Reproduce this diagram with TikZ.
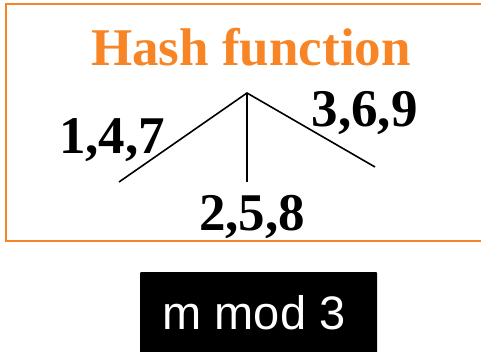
\documentclass[tikz,border=0pt]{standalone}
\usepackage{fontspec}
\setmainfont{Liberation Serif}
\newfontfamily\arialfont{Liberation Sans}
\definecolor{hashorange}{RGB}{247,133,38}
\begin{document}
\begin{tikzpicture}[x=1pt,y=-1pt,
  branch/.style={line width=1.6pt, black},
  lbl/.style={font=\fontsize{53}{53}\selectfont\bfseries, inner sep=0pt, anchor=base},
  ]
\useasboundingbox (0,0) rectangle (481,352);
\clip (0,0) rectangle (481,352);
\draw[hashorange, line width=1.8pt] (6,4) rectangle (484,241);
\node[lbl, text=hashorange] (title) at (251,66) {Hash function};
\coordinate (apex) at (247,93);
\coordinate (lend) at (119,182);
\coordinate (mend) at (247,182);
\coordinate (rend) at (375,167);
\draw[branch] (lend) -- (apex) -- (rend);
\draw[branch] (apex) -- (mend);
\node[lbl] (l147) at (112,154) {1,4,7};
\node[lbl] (l369) at (364.5,127) {3,6,9};
\node[lbl] (l258) at (252,231) {2,5,8};
\fill[black, rounded corners=1pt] (140,272) rectangle (377,360);
\node[inner sep=0pt, anchor=base, text=white, font=\arialfont\fontsize{47}{47}\selectfont] (mod) at (254,329) {m mod 3};
\end{tikzpicture}
\end{document}
